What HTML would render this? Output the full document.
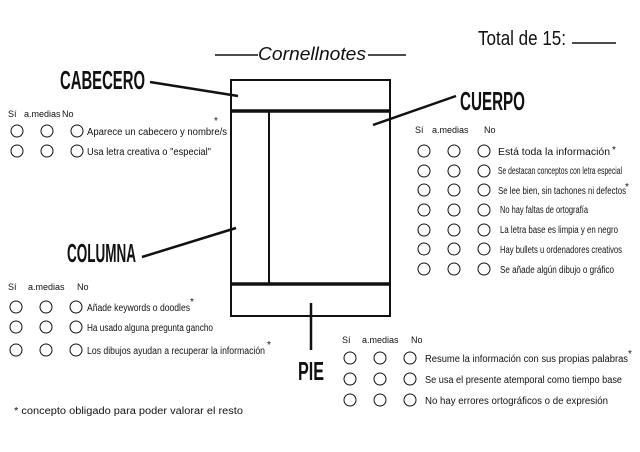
<!DOCTYPE html>
<html><head><meta charset="utf-8"><style>
html,body{margin:0;padding:0;background:#fff}
svg{display:block}
text{font-family:"Liberation Sans",sans-serif;fill:#111}
.s{font-size:10px}
.h{font-size:9px}
.b{font-family:"Liberation Sans Narrow","Liberation Sans",sans-serif;font-weight:bold}
</style></head><body>
<svg width="640" height="452" viewBox="0 0 640 452" xmlns="http://www.w3.org/2000/svg">
<g fill="none" stroke="#111">
<line x1="215" y1="55" x2="258" y2="55" stroke-width="1.5"/>
<line x1="368" y1="55" x2="406" y2="55" stroke-width="1.5"/>
<line x1="572" y1="43" x2="616" y2="43" stroke-width="1.5"/>
<rect x="231" y="80" width="159" height="236" stroke-width="2"/>
<line x1="231" y1="111" x2="390" y2="111" stroke-width="3.5"/>
<line x1="231" y1="284" x2="390" y2="284" stroke-width="3.5"/>
<line x1="269" y1="111" x2="269" y2="284" stroke-width="2"/>
<line x1="150" y1="82" x2="238" y2="96" stroke-width="2.5"/>
<line x1="456" y1="96" x2="373" y2="125" stroke-width="2.5"/>
<line x1="142" y1="257" x2="236" y2="228" stroke-width="2.5"/>
<line x1="311" y1="303" x2="311" y2="350" stroke-width="2.5"/>
<g stroke-width="1">
<circle cx="17" cy="131" r="6"/><circle cx="47" cy="131" r="6"/><circle cx="77" cy="131" r="6"/>
<circle cx="17" cy="151" r="6"/><circle cx="47" cy="151" r="6"/><circle cx="77" cy="151" r="6"/>
<circle cx="424" cy="151" r="6"/><circle cx="454" cy="151" r="6"/><circle cx="484" cy="151" r="6"/>
<circle cx="424" cy="171" r="6"/><circle cx="454" cy="171" r="6"/><circle cx="484" cy="171" r="6"/>
<circle cx="424" cy="190" r="6"/><circle cx="454" cy="190" r="6"/><circle cx="484" cy="190" r="6"/>
<circle cx="424" cy="210" r="6"/><circle cx="454" cy="210" r="6"/><circle cx="484" cy="210" r="6"/>
<circle cx="424" cy="230" r="6"/><circle cx="454" cy="230" r="6"/><circle cx="484" cy="230" r="6"/>
<circle cx="424" cy="249" r="6"/><circle cx="454" cy="249" r="6"/><circle cx="484" cy="249" r="6"/>
<circle cx="424" cy="269" r="6"/><circle cx="454" cy="269" r="6"/><circle cx="484" cy="269" r="6"/>
<circle cx="16" cy="307" r="6"/><circle cx="46" cy="307" r="6"/><circle cx="76" cy="307" r="6"/>
<circle cx="16" cy="327" r="6"/><circle cx="46" cy="327" r="6"/><circle cx="76" cy="327" r="6"/>
<circle cx="16" cy="350" r="6"/><circle cx="46" cy="350" r="6"/><circle cx="76" cy="350" r="6"/>
<circle cx="350" cy="358" r="6"/><circle cx="380" cy="358" r="6"/><circle cx="410" cy="358" r="6"/>
<circle cx="350" cy="379" r="6"/><circle cx="380" cy="379" r="6"/><circle cx="410" cy="379" r="6"/>
<circle cx="350" cy="400" r="6"/><circle cx="380" cy="400" r="6"/><circle cx="410" cy="400" r="6"/>
</g>
</g>
<text x="258" y="60" font-size="18" font-style="italic" font-family="Liberation Serif,serif" textLength="108" lengthAdjust="spacingAndGlyphs">Cornellnotes</text>
<text x="478" y="45" font-size="20" textLength="88" lengthAdjust="spacingAndGlyphs">Total de 15:</text>
<text class="b" x="60" y="89" font-size="26" textLength="85" lengthAdjust="spacingAndGlyphs">CABECERO</text>
<text class="b" x="460" y="110" font-size="26" textLength="65" lengthAdjust="spacingAndGlyphs">CUERPO</text>
<text class="b" x="67" y="262" font-size="26" textLength="69" lengthAdjust="spacingAndGlyphs">COLUMNA</text>
<text class="b" x="298" y="380" font-size="26" textLength="26" lengthAdjust="spacingAndGlyphs">PIE</text>

<text class="h" x="8" y="117">Sí</text><text class="h" x="24" y="117">a.medias</text><text class="h" x="62" y="117">No</text>
<text class="s" x="87" y="135" textLength="140" lengthAdjust="spacingAndGlyphs">Aparece un cabecero  y nombre/s</text>
<text class="s" x="214" y="124">*</text>
<text class="s" x="87" y="155" textLength="124" lengthAdjust="spacingAndGlyphs">Usa letra creativa o "especial"</text>

<text class="h" x="415" y="133">Sí</text><text class="h" x="432" y="133">a.medias</text><text class="h" x="484" y="133">No</text>
<text class="s" x="498" y="155" textLength="112" lengthAdjust="spacingAndGlyphs">Está toda la información</text>
<text class="s" x="612" y="153">*</text>
<text class="s" x="498" y="174" font-size="8" textLength="124" lengthAdjust="spacingAndGlyphs">Se destacan conceptos con letra especial</text>
<text class="s" x="498" y="194" textLength="128" lengthAdjust="spacingAndGlyphs">Se lee bien, sin tachones ni defectos</text>
<text class="s" x="625" y="190">*</text>
<text class="s" x="500" y="213" font-size="8.5" textLength="88" lengthAdjust="spacingAndGlyphs">No hay faltas de ortografía</text>
<text class="s" x="500" y="233" font-size="8.5" textLength="118" lengthAdjust="spacingAndGlyphs">La letra base es limpia y en negro</text>
<text class="s" x="500" y="253" font-size="8.5" textLength="122" lengthAdjust="spacingAndGlyphs">Hay bullets u ordenadores creativos</text>
<text class="s" x="500" y="273" textLength="114" lengthAdjust="spacingAndGlyphs">Se añade algún dibujo  o gráfico</text>

<text class="h" x="8" y="290">Sí</text><text class="h" x="28" y="290">a.medias</text><text class="h" x="77" y="290">No</text>
<text class="s" x="87" y="311" textLength="103" lengthAdjust="spacingAndGlyphs">Añade  keywords  o doodles</text>
<text class="s" x="190" y="305">*</text>
<text class="s" x="87" y="331" textLength="126" lengthAdjust="spacingAndGlyphs">Ha usado alguna pregunta gancho</text>
<text class="s" x="87" y="354" textLength="178" lengthAdjust="spacingAndGlyphs">Los dibujos ayudan a recuperar la información</text>
<text class="s" x="267" y="348">*</text>

<text class="h" x="342" y="343">Sí</text><text class="h" x="362" y="343">a.medias</text><text class="h" x="411" y="343">No</text>
<text class="s" x="425" y="362" textLength="203" lengthAdjust="spacingAndGlyphs">Resume la información con sus propias palabras</text>
<text class="s" x="628" y="357">*</text>
<text class="s" x="425" y="383" textLength="197" lengthAdjust="spacingAndGlyphs">Se usa el presente atemporal como tiempo base</text>
<text class="s" x="425" y="404" textLength="183" lengthAdjust="spacingAndGlyphs">No hay errores ortográficos o de expresión</text>

<text class="s" x="14" y="414" textLength="229" lengthAdjust="spacingAndGlyphs">* concepto  obligado  para poder  valorar el resto</text>
</svg>
</body></html>
